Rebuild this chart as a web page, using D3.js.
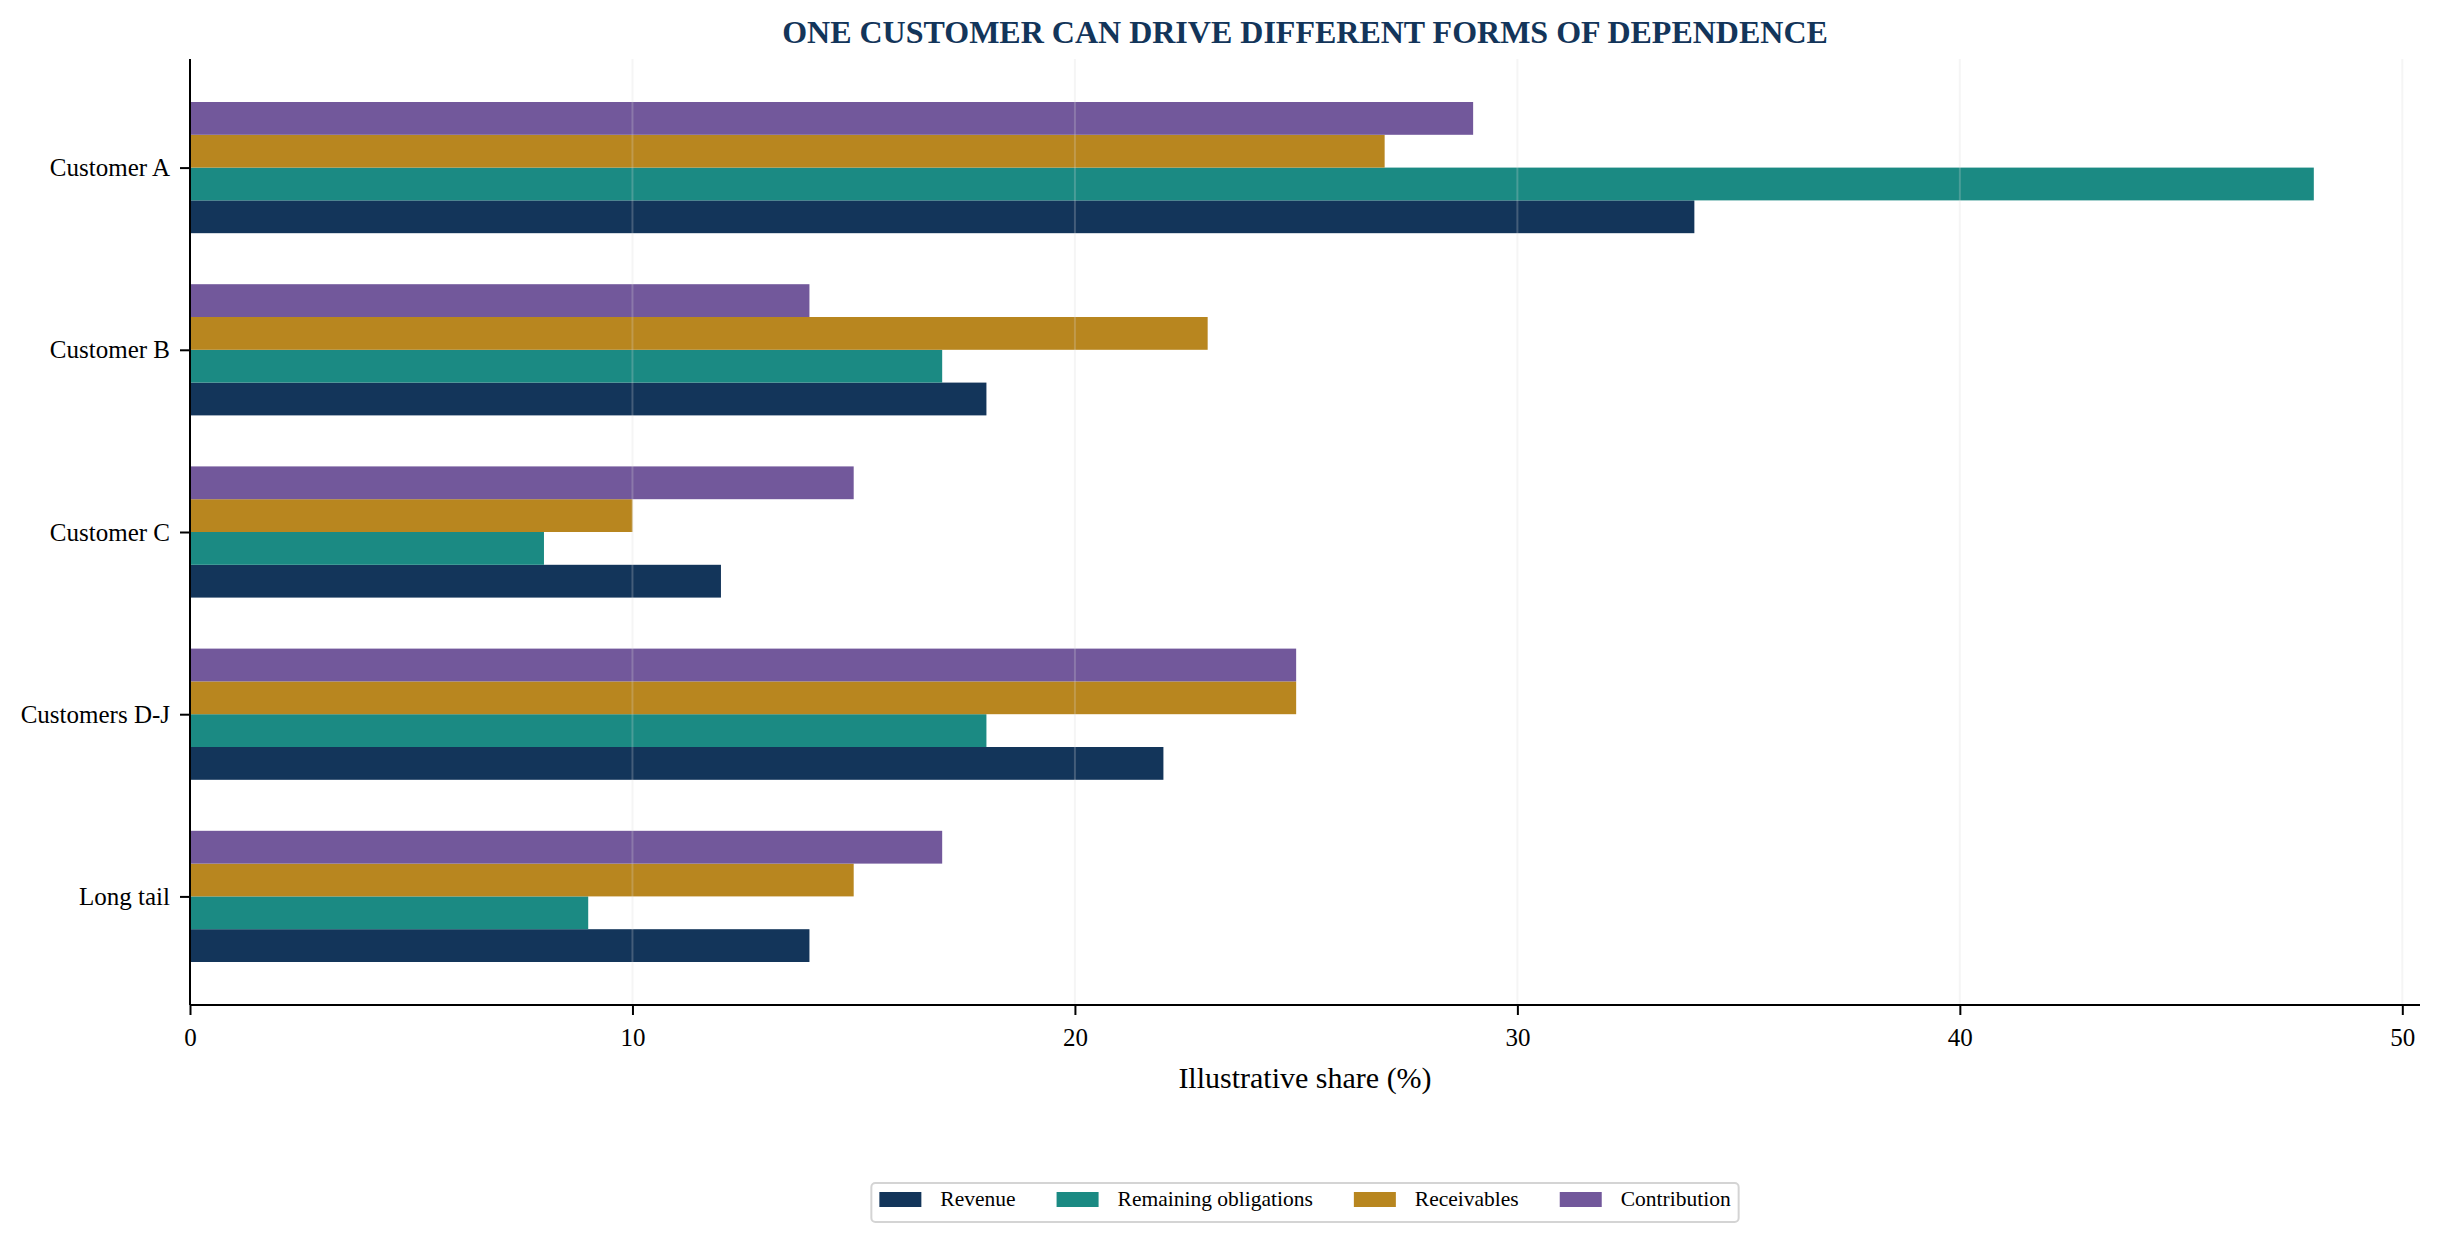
<!DOCTYPE html>
<html><head><meta charset="utf-8">
<script src="https://cdn.jsdelivr.net/npm/d3@7"></script>
<style>body{margin:0;background:#fff}svg{display:block}text{font-family:"Liberation Serif","Times New Roman",serif}</style>
</head><body><svg id="c" width="2443" height="1243"></svg>
<script>
const categories = ["Customer A","Customer B","Customer C","Customers D-J","Long tail"];
const seriesNames = ["Revenue","Remaining obligations","Receivables","Contribution"];
const revenue = [34,18,12,22,14];
const remainingObligations = [48,17,8,18,9];
const receivables = [27,23,10,25,15];
const contribution = [29,14,15,25,17];
const xTicks = [0,10,20,30,40,50];
const colors = ["#13355a","#1b8a83","#b8861f","#72589b"];
const titleText = "ONE CUSTOMER CAN DRIVE DIFFERENT FORMS OF DEPENDENCE";
const xLabelText = "Illustrative share (%)";

const seriesValues = [revenue, remainingObligations, receivables, contribution];
const svg = d3.select("#c");
const L=190, R=2420, T=59, B=1005;
const barH = 0.18;
const x = d3.scaleLinear().domain([0, d3.max(seriesValues.flat())*1.05]).range([L,R]);
const y = d3.scaleLinear().domain([-0.596, categories.length-1+0.596]).range([T,B]);

// bars
seriesValues.forEach((vals,j)=>{
  const off = (1.5-j)*barH;
  svg.append("g").selectAll("rect").data(vals).join("rect")
    .attr("x", x(0))
    .attr("y", (d,i)=>y(i+off-barH/2))
    .attr("width", d=>x(d)-x(0))
    .attr("height", y(barH)-y(0))
    .attr("fill", colors[j]);
});
// grid on top
svg.append("g").selectAll("line").data(xTicks).join("line")
  .attr("x1",d=>x(d)).attr("x2",d=>x(d)).attr("y1",T).attr("y2",B)
  .attr("stroke","#d9d9d9").attr("stroke-opacity",0.25).attr("stroke-width",2);

// x axis
const xa = svg.append("g").attr("transform",`translate(0,${B})`)
  .call(d3.axisBottom(x).tickValues(xTicks).tickSize(10).tickPadding(13).tickFormat(d3.format("d")));
xa.select(".domain").attr("stroke","#000").attr("stroke-width",2).attr("d",`M${L},0H${R}`);
xa.selectAll(".tick line").attr("stroke","#000").attr("stroke-width",2);
xa.selectAll(".tick text").attr("font-size",25).attr("fill","#000").attr("font-family","Liberation Serif");

// y axis
const yScaleBand = d3.scaleOrdinal().domain(categories).range(categories.map((c,i)=>y(i)));
const ya = svg.append("g").attr("transform",`translate(${L},0)`)
  .call(d3.axisLeft(yScaleBand).tickSize(10).tickPadding(10));
ya.select(".domain").attr("stroke","#000").attr("stroke-width",2).attr("d",`M0,${T}V${B}`);
ya.selectAll(".tick line").attr("stroke","#000").attr("stroke-width",2);
ya.selectAll(".tick text").attr("font-size",25).attr("fill","#000").attr("font-family","Liberation Serif");

// title
svg.append("text").attr("x",(L+R)/2).attr("y",43).attr("text-anchor","middle")
  .attr("font-size",32).attr("font-weight","bold").attr("fill","#13355a").text(titleText);
// x label
svg.append("text").attr("x",(L+R)/2).attr("y",1088).attr("text-anchor","middle")
  .attr("font-size",30).attr("fill","#000").text(xLabelText);

// legend
const fs = 21.5;
const lg = svg.append("g");
const items = lg.selectAll("g").data(seriesNames).join("g");
items.append("rect").attr("width",42).attr("height",15).attr("fill",(d,i)=>colors[i]);
items.append("text").attr("x",61).attr("y",14).attr("font-size",fs).attr("fill","#000").text(d=>d);
let cx = 0; const widths=[];
items.each(function(d,i){ const w=d3.select(this).select("text").node().getComputedTextLength(); widths.push(61+w); });
const colSpace = 41;
const total = d3.sum(widths)+colSpace*(widths.length-1);
const pad = 8;
const lx0 = (L+R)/2 - total/2;
items.attr("transform",(d,i)=>{const t=`translate(${lx0+cx},1192)`; cx+=widths[i]+colSpace; return t;});
lg.insert("rect",":first-child").attr("x",lx0-pad).attr("y",1183).attr("width",total+2*pad).attr("height",39)
  .attr("rx",4).attr("fill","#fff").attr("stroke","#d4d4d4").attr("stroke-width",2);
</script></body></html>
